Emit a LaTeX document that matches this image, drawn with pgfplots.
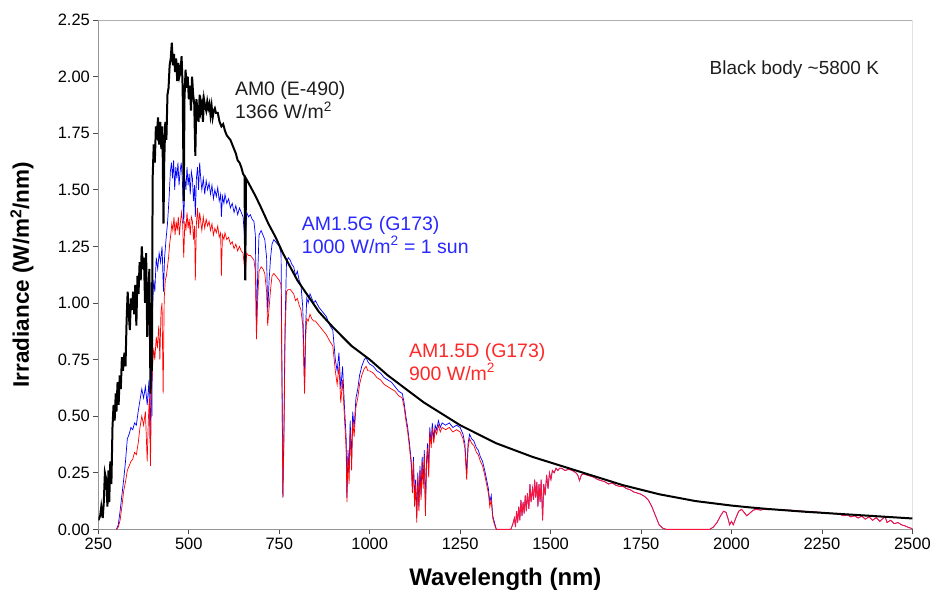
\documentclass[border=0pt]{standalone}
\usepackage{pgfplots}
\usepackage{pgfplotstable}
\pgfplotsset{compat=1.18}
\usepackage{fontspec}
\setmainfont{Liberation Sans}
\definecolor{frame}{RGB}{150,150,150}
\definecolor{lightframe}{RGB}{175,175,175}
\definecolor{txtblue}{RGB}{40,40,255}
\definecolor{txtred}{RGB}{255,40,40}
\definecolor{txtblack}{RGB}{30,30,30}
\definecolor{tailred}{RGB}{250,20,60}

\pgfplotstableread{
x y
250 0.04
255 0.06
258 0.10
262 0.05
265 0.12
268 0.25
272 0.22
275 0.10
278 0.26
280 0.12
283 0.30
286 0.20
289 0.45
292 0.55
295 0.48
298 0.60
300 0.52
303 0.65
306 0.55
309 0.68
312 0.62
315 0.76
318 0.70
322 0.78
325 0.72
328 0.92
331 1.05
334 0.95
337 0.88
340 1.02
343 0.97
346 1.05
349 0.95
352 1.08
355 0.90
358 1.12
361 1.04
364 1.18
367 1.10
370 1.25
373 1.15
376 1.20
379 1.00
382 1.22
385 0.85
388 1.05
391 1.15
394 0.60
396 1.00
398 0.70
400 1.55
403 1.70
406 1.62
409 1.78
412 1.75
415 1.82
418 1.70
421 1.80
424 1.68
427 1.78
430 1.35
432 1.62
435 1.80
438 1.72
441 1.92
444 1.95
447 2.05
450 2.08
453 2.15
456 2.05
459 2.10
462 2.02
465 2.08
468 1.98
471 2.06
474 2.00
477 2.02
480 2.09
483 1.95
486 1.45
488 1.90
491 2.03
494 1.95
497 2.00
500 1.90
503 1.96
506 1.85
509 2.00
512 1.92
515 1.88
518 1.65
521 1.90
524 1.85
527 1.80
530 1.92
533 1.85
536 1.88
539 1.80
542 1.90
545 1.87
548 1.85
551 1.89
554 1.86
557 1.88
560 1.83
563 1.87
566 1.82
569 1.85
572 1.86
575 1.84
580 1.84
585 1.80
590 1.78
595 1.79
600 1.76
605 1.74
610 1.73
615 1.72
620 1.70
625 1.68
630 1.66
635 1.63
640 1.62
645 1.60
650 1.57
654 1.56
656 1.10
658 1.55
665 1.53
675 1.50
685 1.47
700 1.42
720 1.35
740 1.29
760 1.22
780 1.16
800 1.10
830 1.03
860 0.96
900 0.89
950 0.81
1000 0.75
1050 0.68
1100 0.62
1150 0.56
1200 0.51
1250 0.46
1300 0.42
1350 0.38
1400 0.35
1450 0.32
1500 0.295
1550 0.27
1600 0.245
1650 0.22
1700 0.195
1750 0.175
1800 0.155
1850 0.14
1900 0.125
1950 0.115
2000 0.105
2050 0.097
2100 0.090
2150 0.084
2200 0.078
2250 0.073
2300 0.068
2350 0.063
2400 0.058
2450 0.053
2500 0.048
}\amzero

\pgfplotstableread{
x y
300 0.0
305 0.02
310 0.08
315 0.15
320 0.22
325 0.30
330 0.40
335 0.42
340 0.45
345 0.44
350 0.47
355 0.46
360 0.52
365 0.57
370 0.62
375 0.58
380 0.63
385 0.55
390 0.66
393 0.40
396 0.70
398 0.50
400 0.98
403 1.10
406 1.05
410 1.20
414 1.15
418 1.22
422 1.18
426 1.25
430 1.05
433 1.20
437 1.28
441 1.35
445 1.45
449 1.58
452 1.62
455 1.55
458 1.63
461 1.50
464 1.60
467 1.55
470 1.62
473 1.52
476 1.58
479 1.62
482 1.55
486 1.35
489 1.55
492 1.50
495 1.60
498 1.52
501 1.57
504 1.48
507 1.58
510 1.55
513 1.45
516 1.52
518 1.38
521 1.55
524 1.60
527 1.50
530 1.62
533 1.55
536 1.50
540 1.55
544 1.48
548 1.54
552 1.50
556 1.53
560 1.48
564 1.52
568 1.46
572 1.50
576 1.47
580 1.51
584 1.45
588 1.48
590 1.38
593 1.47
597 1.44
600 1.48
605 1.44
610 1.46
615 1.42
620 1.44
625 1.40
630 1.43
635 1.39
640 1.42
645 1.40
650 1.38
656 1.25
660 1.40
665 1.38
670 1.39
675 1.37
680 1.36
684 1.30
687 0.88
690 1.10
694 1.30
700 1.32
705 1.30
710 1.28
715 1.20
718 0.96
722 1.10
726 1.20
730 1.26
735 1.28
740 1.27
745 1.26
750 1.25
755 1.22
758 0.60
760 0.14
763 0.45
766 0.90
770 1.18
775 1.20
780 1.19
785 1.17
790 1.16
795 1.12
800 1.14
805 1.10
810 1.08
815 0.98
820 0.63
823 0.90
826 1.02
830 1.00
835 1.04
840 1.02
845 1.00
850 1.01
860 0.98
870 0.96
880 0.94
890 0.90
898 0.88
905 0.75
910 0.70
915 0.78
920 0.62
925 0.72
930 0.55
935 0.40
937 0.14
940 0.35
943 0.25
946 0.48
950 0.30
953 0.52
957 0.45
962 0.58
967 0.62
972 0.68
978 0.72
985 0.75
990 0.76
995 0.74
1000 0.73
1010 0.72
1020 0.70
1030 0.69
1040 0.67
1050 0.66
1060 0.65
1070 0.63
1080 0.61
1090 0.60
1095 0.56
1100 0.50
1105 0.45
1110 0.38
1115 0.30
1118 0.18
1121 0.32
1124 0.12
1127 0.22
1130 0.05
1133 0.25
1136 0.10
1139 0.28
1142 0.15
1145 0.32
1148 0.20
1151 0.35
1154 0.08
1157 0.30
1160 0.38
1163 0.25
1166 0.45
1170 0.38
1173 0.47
1177 0.40
1181 0.46
1185 0.44
1190 0.48
1195 0.45
1200 0.47
1210 0.46
1220 0.47
1230 0.45
1240 0.46
1250 0.45
1258 0.42
1263 0.38
1268 0.25
1272 0.38
1276 0.42
1282 0.40
1288 0.39
1295 0.36
1300 0.35
1306 0.32
1312 0.30
1318 0.26
1323 0.22
1328 0.18
1332 0.12
1336 0.15
1340 0.06
1345 0.03
1350 0.0
}\amglobal

\pgfplotstableread{
x y
300 0.0
305 0.01
310 0.04
315 0.10
320 0.17
325 0.21
330 0.26
335 0.28
340 0.30
345 0.31
350 0.34
355 0.33
360 0.38
365 0.45
370 0.50
375 0.46
380 0.52
385 0.30
388 0.48
391 0.58
394 0.28
397 0.62
400 0.72
403 0.80
406 0.75
410 0.85
413 0.80
417 0.90
420 0.75
423 0.96
426 1.00
429 0.60
432 1.02
435 1.10
438 1.12
441 1.16
444 1.20
447 1.26
450 1.30
453 1.35
456 1.32
459 1.38
462 1.30
465 1.36
468 1.32
471 1.38
474 1.30
477 1.36
480 1.40
483 1.35
486 1.20
489 1.36
492 1.32
495 1.40
498 1.33
501 1.37
504 1.30
507 1.38
510 1.36
513 1.28
516 1.34
518 1.10
521 1.35
524 1.42
527 1.33
530 1.40
533 1.36
536 1.32
540 1.38
544 1.33
548 1.37
552 1.34
556 1.36
560 1.32
564 1.35
568 1.30
572 1.33
576 1.31
580 1.34
584 1.29
588 1.31
590 1.12
593 1.30
597 1.28
600 1.31
605 1.28
610 1.29
615 1.26
620 1.27
625 1.24
630 1.26
635 1.23
640 1.25
645 1.23
650 1.22
656 1.12
660 1.22
665 1.21
670 1.21
675 1.20
680 1.19
684 1.14
687 0.84
690 1.00
694 1.14
700 1.16
705 1.15
710 1.13
715 1.05
718 0.90
722 0.98
726 1.06
730 1.12
735 1.13
740 1.12
745 1.11
750 1.10
755 1.08
758 0.55
760 0.14
763 0.40
766 0.85
770 1.05
775 1.06
780 1.06
785 1.05
790 1.04
795 1.01
800 1.02
805 0.99
810 0.97
815 0.90
820 0.60
823 0.85
826 0.93
830 0.92
835 0.95
840 0.93
845 0.92
850 0.92
860 0.90
870 0.88
880 0.86
890 0.83
898 0.81
905 0.70
910 0.64
915 0.72
920 0.56
925 0.66
930 0.50
935 0.35
937 0.12
940 0.32
943 0.20
946 0.44
950 0.26
953 0.48
957 0.41
962 0.54
967 0.58
972 0.64
978 0.68
985 0.71
990 0.72
995 0.70
1000 0.70
1010 0.69
1020 0.67
1030 0.66
1040 0.64
1050 0.63
1060 0.62
1070 0.61
1080 0.59
1090 0.58
1095 0.54
1100 0.48
1105 0.43
1110 0.36
1115 0.28
1118 0.16
1121 0.30
1124 0.10
1127 0.20
1130 0.03
1133 0.23
1136 0.08
1139 0.26
1142 0.13
1145 0.30
1148 0.18
1151 0.33
1154 0.06
1157 0.28
1160 0.36
1163 0.23
1166 0.43
1170 0.36
1173 0.45
1177 0.38
1181 0.44
1185 0.42
1190 0.46
1195 0.43
1200 0.45
1210 0.44
1220 0.45
1230 0.43
1240 0.44
1250 0.43
1258 0.40
1263 0.36
1268 0.22
1272 0.36
1276 0.40
1282 0.38
1288 0.37
1295 0.34
1300 0.33
1306 0.30
1312 0.28
1318 0.24
1323 0.20
1328 0.16
1332 0.10
1336 0.13
1340 0.05
1345 0.02
1350 0.0
}\amdirect

\pgfplotstableread{
x y
1350 0.0
1390 0.0
1395 0.02
1400 0.05
1403 0.01
1406 0.08
1409 0.03
1412 0.10
1415 0.04
1418 0.13
1421 0.06
1424 0.12
1427 0.07
1430 0.15
1433 0.08
1436 0.16
1440 0.09
1443 0.20
1446 0.12
1450 0.18
1453 0.13
1456 0.22
1459 0.14
1462 0.21
1465 0.10
1468 0.20
1471 0.12
1474 0.22
1478 0.04
1481 0.20
1485 0.15
1489 0.24
1493 0.18
1497 0.25
1501 0.22
1505 0.26
1510 0.25
1515 0.27
1520 0.26
1525 0.27
1530 0.27
1540 0.26
1550 0.265
1560 0.26
1570 0.25
1575 0.24
1580 0.215
1585 0.24
1590 0.245
1600 0.24
1610 0.235
1620 0.23
1630 0.22
1640 0.215
1650 0.21
1660 0.20
1670 0.205
1680 0.195
1690 0.19
1700 0.19
1710 0.18
1720 0.175
1730 0.165
1740 0.16
1750 0.155
1760 0.145
1770 0.13
1780 0.10
1790 0.06
1800 0.02
1810 0.005
1820 0.0
1940 0.0
1950 0.01
1960 0.03
1970 0.06
1978 0.08
1985 0.075
1990 0.05
1995 0.02
2000 0.035
2005 0.02
2012 0.05
2020 0.08
2028 0.088
2035 0.075
2042 0.06
2050 0.07
2060 0.085
2070 0.088
2080 0.085
2090 0.088
2100 0.087
2120 0.088
2140 0.086
2160 0.085
2180 0.082
2200 0.080
2220 0.078
2240 0.076
2260 0.073
2280 0.070
2300 0.066
2310 0.060
2320 0.064
2330 0.055
2340 0.060
2350 0.050
2360 0.058
2370 0.045
2380 0.055
2390 0.040
2400 0.052
2410 0.035
2420 0.050
2425 0.055
2430 0.030
2440 0.040
2450 0.025
2460 0.030
2470 0.020
2480 0.015
2490 0.008
2500 0.003
}\irtail

\begin{document}
\begin{tikzpicture}
\begin{axis}[
  scale only axis,
  width=815pt, height=510pt,
  xmin=250, xmax=2500, ymin=0, ymax=2.25,
  xtick={250,500,...,2500},
  ytick={0,0.25,...,2.25},
  axis x line*=bottom, axis y line*=left,
  axis line style={frame, line width=0.8pt},
  tick style={black!70, line width=0.8pt},
  tick align=outside,
  major tick length=5pt,
  /pgf/number format/assume math mode=true,
  xticklabel style={font=\fontsize{16.5}{19}\selectfont, /pgf/number format/set thousands separator={}},
  yticklabel style={font=\fontsize{16.5}{19}\selectfont, /pgf/number format/.cd, fixed, fixed zerofill, precision=2},
  xlabel={\textbf{Wavelength (nm)}},
  ylabel={\textbf{Irradiance (W/m\textsuperscript{2}/nm)}},
  xlabel style={font=\fontsize{24}{27}\selectfont, at={(axis description cs:0.5,-0.098)}, anchor=center},
  ylabel style={font=\fontsize{22.5}{26}\selectfont, at={(axis description cs:-0.094,0.5)}, anchor=center},
]
\draw[lightframe, line width=0.8pt] (rel axis cs:0,1) -- (rel axis cs:1,1) -- (rel axis cs:1,0);
\addplot[blue, line width=0.7pt] table {\amglobal};
\addplot[blue, line width=0.5pt] table {\irtail};
\addplot[red, line width=0.7pt] table {\amdirect};
\addplot[tailred, line width=0.9pt] table {\irtail};
\addplot[black, line width=2pt] table {\amzero};
\node[anchor=west, align=left, text=txtblack, font=\fontsize{19.5}{23}\selectfont] at (axis cs:618,1.895) {AM0 (E-490)\\1366 W/m\textsuperscript{2}};
\node[anchor=west, align=left, text=txtblue, font=\fontsize{19.5}{23}\selectfont] at (axis cs:803,1.30) {AM1.5G (G173)\\1000 W/m\textsuperscript{2} = 1 sun};
\node[anchor=west, align=left, text=txtred, font=\fontsize{19.5}{23}\selectfont] at (axis cs:1099,0.74) {AM1.5D (G173)\\900 W/m\textsuperscript{2}};
\node[anchor=west, text=txtblack, font=\fontsize{19}{23}\selectfont] at (axis cs:1930,2.03) {Black body \textasciitilde5800 K};
\end{axis}
\path ([xshift=-98.5pt,yshift=-65pt]current axis.south west) rectangle ([xshift=20.5pt,yshift=20pt]current axis.north east);
\end{tikzpicture}
\end{document}
